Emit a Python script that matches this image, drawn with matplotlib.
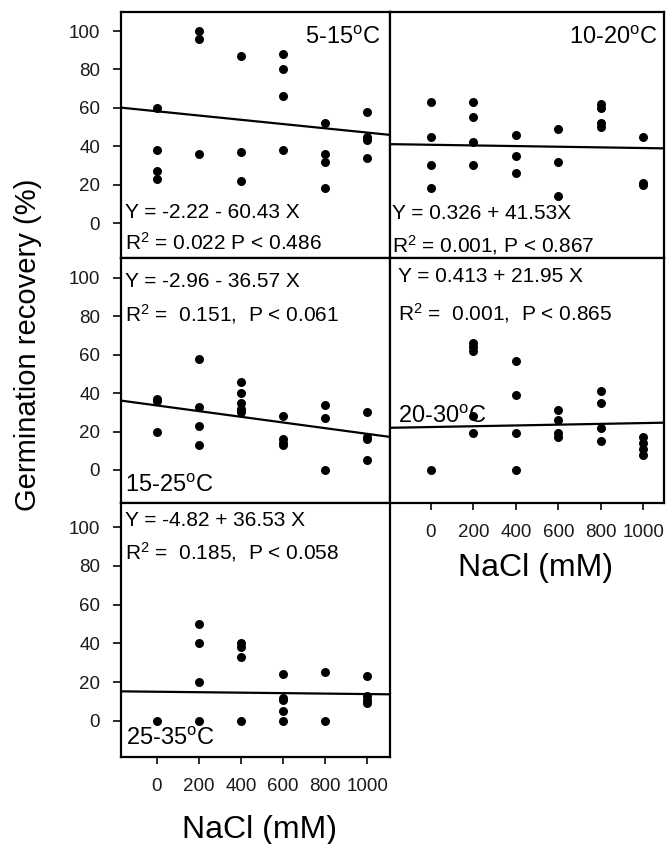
import matplotlib.pyplot as plt
import numpy as np

plt.rcParams['font.family'] = 'Liberation Sans'
plt.rcParams['mathtext.default'] = 'regular'

# NaCl levels (mM)
nacl = [0, 200, 400, 600, 800, 1000]

# germination recovery (%) per NaCl level, one list per temperature regime
germ_5_15 = [[60, 38, 27, 23], [100, 96, 36], [87, 37, 22],
             [88, 80, 66, 38], [52, 36, 32, 18], [58, 45, 43, 34]]
germ_10_20 = [[63, 45, 30, 18], [63, 55, 42, 30], [46, 35, 26],
              [49, 32, 14], [62, 60, 52, 50], [45, 21, 20]]
germ_15_25 = [[37, 36, 20], [58, 33, 23, 13], [46, 40, 35, 32, 30],
              [28, 16, 14, 13], [34, 27, 0], [30, 17, 16, 5]]
germ_20_30 = [[0], [66, 64, 62, 28, 19], [57, 39, 19, 0],
              [31, 26, 19, 17], [41, 35, 22, 15], [17, 14, 11, 8]]
germ_25_35 = [[0], [50, 40, 20, 0], [40, 38, 33, 0],
              [24, 12, 11, 5, 0], [25, 0], [23, 13, 11, 9]]

# regression lines: slope per 200 mM step, intercept at step 0
fit_slope = [-2.22, -0.34, -2.96, 0.413, -0.24]
fit_icpt = [60.43, 41.1, 36.57, 21.95, 15.3]

temps = ['5-15', '10-20', '15-25', '20-30', '25-35']
eq_text = ['Y = -2.22 - 60.43 X', 'Y = 0.326 + 41.53X', 'Y = -2.96 - 36.57 X',
           'Y = 0.413 + 21.95 X', 'Y = -4.82 + 36.53 X']
r2_text = ['R$^2$ = 0.022 P < 0.486', 'R$^2$ = 0.001, P < 0.867',
           'R$^2$ =  0.151,  P < 0.061', 'R$^2$ =  0.001,  P < 0.865',
           'R$^2$ =  0.185,  P < 0.058']
all_data = [germ_5_15, germ_10_20, germ_15_25, germ_20_30, germ_25_35]

W, H = 666, 844
fig = plt.figure(figsize=(W / 100, H / 100), dpi=100)

# panel boxes in pixels: left, top, right, bottom
boxes = [(121, 12, 390, 258), (390, 12, 664, 258),
         (121, 258, 390, 503), (390, 258, 664, 503),
         (121, 503, 390, 757)]
ylims = [(-18.2, 109.9), (-18.2, 109.9), (-17.2, 110.4), (-17.2, 110.4), (-18.6, 112.4)]
xlims = [(-170, 1108), (-192, 1097), (-170, 1108), (-192, 1097), (-170, 1108)]
show_y = [True, False, True, False, True]
show_x = [False, False, False, True, True]

# text anchors in axes fraction: equation, r2, temperature label
eq_pos = [(0.015, 0.184), (0.007, 0.182), (0.015, 0.903), (0.029, 0.924), (0.015, 0.930)]
r2_pos = [(0.015, 0.061), (0.007, 0.053), (0.015, 0.771), (0.029, 0.776), (0.015, 0.805)]
lab_pos = [(0.963, 0.894, 'right'), (0.978, 0.896, 'right'), (0.015, 0.069, 'left'),
           (0.029, 0.353, 'left'), (0.02, 0.073, 'left')]

for i in range(5):
    l, t, r, b = boxes[i]
    ax = fig.add_axes([l / W, 1 - b / H, (r - l) / W, (b - t) / H])
    for x, ys in zip(nacl, all_data[i]):
        ax.scatter([x] * len(ys), ys, s=42, color='black', zorder=3, linewidths=0)
    xs = np.array(xlims[i])
    ax.plot(xs, fit_icpt[i] + fit_slope[i] * (xs / 200 + 1), color='black', lw=1.6)
    ax.set_xlim(xlims[i])
    ax.set_ylim(ylims[i])
    for sp in ax.spines.values():
        sp.set_linewidth(1.6)
    ax.set_yticks([0, 20, 40, 60, 80, 100])
    ax.set_xticks(nacl)
    ax.tick_params(axis='y', direction='out', length=6, width=1.3, pad=9,
                   labelsize=13.5, left=show_y[i], labelleft=show_y[i], colors='#1a1a1a')
    ax.tick_params(axis='x', direction='out', length=5, width=1.3, pad=10,
                   labelsize=13.5, bottom=show_x[i], labelbottom=show_x[i], colors='#1a1a1a')
    ax.text(*eq_pos[i], eq_text[i], transform=ax.transAxes, fontsize=15,
            ha='left', va='center')
    ax.text(*r2_pos[i], r2_text[i], transform=ax.transAxes, fontsize=15,
            ha='left', va='center')
    lx, ly, lha = lab_pos[i]
    ax.text(lx, ly, temps[i] + '$^{o}$C', transform=ax.transAxes, fontsize=17,
            ha=lha, va='center')

fig.text(28 / W, 1 - 345 / H, 'Germination recovery (%)', rotation=90,
         fontsize=21, ha='center', va='center')
fig.text(260 / W, 1 - 830 / H, 'NaCl (mM)', fontsize=23, ha='center', va='center')
fig.text(535 / W, 1 - 568 / H, 'NaCl (mM)', fontsize=23, ha='center', va='center')

fig.savefig('out.png', dpi=100)
